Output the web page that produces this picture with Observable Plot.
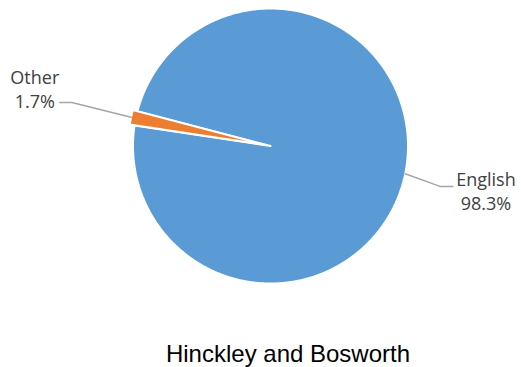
<!DOCTYPE html>
<html>
<head>
<meta charset="utf-8">
<script src="https://cdn.jsdelivr.net/npm/d3@7"></script>
<script src="https://cdn.jsdelivr.net/npm/@observablehq/plot@0.6"></script>
<style>
  html, body { margin: 0; padding: 0; background: #fff; }
</style>
</head>
<body>
<div id="chart"></div>
<script>
// ---- data ----
const categories = ["English", "Other"];
const shares = [98.3, 1.7];
const labels = ["English\n98.3%", "Other\n1.7%"];
const title = "Hinckley and Bosworth";

// ---- layout (code, not data) ----
const W = 521, H = 367;
const cxPx = 270, cyPx = 145.5, Rpx = 137.5;
const toRad = Math.PI / 180;
const startDeg = 284.7; // rotation of first slice (clockwise from top)

const pie = d3.pie().sort(null).value(d => d.value)
  .startAngle(startDeg * toRad).endAngle((startDeg + 360) * toRad);
const table = categories.map((c, i) => ({category: c, value: shares[i], label: labels[i]}));
const arcs = pie(table);

const explode = {English: 0, Other: 0.035};
const labelDist = {English: 1.6, Other: 1.75};
const labelDyPx = {English: 0, Other: -9};
// leader line: [elbow dx, elbow dy, end dx, end dy] in px relative to label centre
const leader = {English: [-46, -4, -33, -4], Other: [37, 14, 25, 14]};

const u = px => px / Rpx;

// polygon points for each slice
const slicePts = [];
arcs.forEach(a => {
  const c = a.data.category;
  const mid = (a.startAngle + a.endAngle) / 2;
  const ox = Math.sin(mid) * explode[c], oy = Math.cos(mid) * explode[c];
  slicePts.push({category: c, x: ox, y: oy});
  const n = Math.max(4, Math.ceil((a.endAngle - a.startAngle) / (0.4 * toRad)));
  for (let k = 0; k <= n; k++) {
    const t = a.startAngle + (a.endAngle - a.startAngle) * k / n;
    slicePts.push({category: c, x: ox + Math.sin(t), y: oy + Math.cos(t)});
  }
  slicePts.push({category: c, x: ox, y: oy});
});

const labelPts = arcs.map(a => {
  const c = a.data.category;
  const mid = (a.startAngle + a.endAngle) / 2;
  return {
    category: c,
    label: a.data.label,
    mid,
    x: Math.sin(mid) * labelDist[c],
    y: Math.cos(mid) * labelDist[c] - u(labelDyPx[c])
  };
});

const leaderPts = [];
labelPts.forEach(l => {
  const [ex, ey, tx, ty] = leader[l.category];
  const r0 = 1.0 + explode[l.category];
  leaderPts.push({category: l.category, x: Math.sin(l.mid) * r0, y: Math.cos(l.mid) * r0});
  leaderPts.push({category: l.category, x: l.x + u(ex), y: l.y - u(ey)});
  leaderPts.push({category: l.category, x: l.x + u(tx), y: l.y - u(ty)});
});

const chart = Plot.plot({
  width: W,
  height: H,
  margin: 0,
  x: {domain: [u(-cxPx), u(W - cxPx)], axis: null},
  y: {domain: [u(-(H - cyPx)), u(cyPx)], axis: null},
  color: {domain: categories, range: ["#5B9BD5", "#ED7D31"]},
  style: {background: "#fff"},
  marks: [
    Plot.line(slicePts, {x: "x", y: "y", z: "category", fill: "category",
      stroke: "#fff", strokeWidth: 2, strokeLinejoin: "miter", curve: "linear"}),
    Plot.line(leaderPts, {x: "x", y: "y", z: "category", stroke: "#A6A6A6", strokeWidth: 1.5}),
    Plot.text(labelPts, {x: "x", y: "y", text: "label", textAnchor: "middle",
      lineAnchor: "middle", fontSize: 18, lineHeight: 1.33,
      fontFamily: "'Open Sans', sans-serif", fill: "#404040"}),
    Plot.text([title], {frameAnchor: "bottom", text: d => d, dx: 27, dy: -13,
      lineAnchor: "middle", fontSize: 24,
      fontFamily: "'Liberation Sans', Arial, sans-serif", fill: "#000"})
  ]
});
document.getElementById("chart").appendChild(chart);
</script>
</body>
</html>
